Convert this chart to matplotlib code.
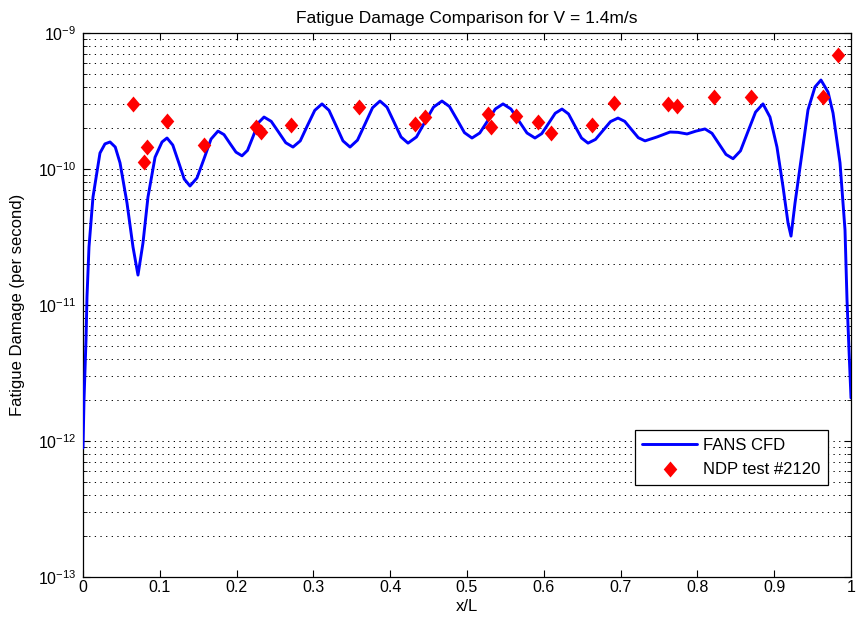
import matplotlib
matplotlib.use("Agg")
import matplotlib.pyplot as plt
from matplotlib.ticker import LogLocator, NullFormatter, FixedLocator, LogFormatterMathtext

plt.rcParams['font.family'] = ['Liberation Sans', 'DejaVu Sans']

# FANS CFD curve (x/L, damage per second)
cfd_x = [0.0, 0.0013, 0.0039, 0.0052, 0.0078, 0.0130, 0.0221, 0.0286, 0.0352,
         0.0420, 0.0482, 0.0573, 0.0651, 0.0716,
         0.0781, 0.0846, 0.0938, 0.1029, 0.1094,
         0.1169, 0.1243, 0.1318, 0.1393,
         0.1484, 0.1576, 0.1667, 0.1758,
         0.1836, 0.1914, 0.1992, 0.2070,
         0.2142, 0.2214, 0.2285, 0.2357,
         0.2451, 0.2546, 0.2640, 0.2734,
         0.2829, 0.2923, 0.3018, 0.3112,
         0.3203, 0.3294, 0.3385, 0.3477,
         0.3574, 0.3672, 0.3770, 0.3867,
         0.3958, 0.4049, 0.4141, 0.4232,
         0.4342, 0.4453, 0.4564, 0.4674,
         0.4772, 0.4870, 0.4967, 0.5065,
         0.5166, 0.5267, 0.5368, 0.5469,
         0.5573, 0.5677, 0.5781, 0.5885,
         0.5973, 0.6061, 0.6149, 0.6237,
         0.6322, 0.6406, 0.6491, 0.6576,
         0.6673, 0.6771, 0.6868, 0.6966,
         0.7054, 0.7142, 0.7230, 0.7318,
         0.7474, 0.7643, 0.7747, 0.7865, 0.7982, 0.8099,
         0.8190, 0.8281, 0.8372, 0.8464,
         0.8561, 0.8659, 0.8757, 0.8854,
         0.8945, 0.9036, 0.9115, 0.9180, 0.9219,
         0.9271, 0.9362, 0.9440, 0.9531, 0.9609,
         0.9701, 0.9766, 0.9857, 0.9922, 0.9948, 0.9974, 1.0]
cfd_y = [8.9e-13, 2.0e-12, 5.53e-12, 1.15e-11, 2.67e-11, 6.22e-11, 1.31e-10, 1.53e-10, 1.58e-10,
         1.45e-10, 1.11e-10, 5.62e-11, 2.67e-11, 1.66e-11,
         2.86e-11, 6.22e-11, 1.22e-10, 1.58e-10, 1.69e-10,
         1.50e-10, 1.13e-10, 8.44e-11, 7.50e-11,
         8.59e-11, 1.19e-10, 1.66e-10, 1.90e-10,
         1.79e-10, 1.54e-10, 1.33e-10, 1.25e-10,
         1.37e-10, 1.73e-10, 2.19e-10, 2.41e-10,
         2.24e-10, 1.87e-10, 1.56e-10, 1.45e-10,
         1.61e-10, 2.09e-10, 2.70e-10, 3.01e-10,
         2.70e-10, 2.09e-10, 1.61e-10, 1.45e-10,
         1.63e-10, 2.14e-10, 2.82e-10, 3.16e-10,
         2.85e-10, 2.22e-10, 1.72e-10, 1.55e-10,
         1.72e-10, 2.22e-10, 2.85e-10, 3.16e-10,
         2.88e-10, 2.31e-10, 1.85e-10, 1.69e-10,
         1.84e-10, 2.25e-10, 2.76e-10, 3.01e-10,
         2.76e-10, 2.25e-10, 1.84e-10, 1.69e-10,
         1.82e-10, 2.16e-10, 2.57e-10, 2.76e-10,
         2.54e-10, 2.07e-10, 1.69e-10, 1.55e-10,
         1.65e-10, 1.92e-10, 2.23e-10, 2.37e-10,
         2.24e-10, 1.95e-10, 1.70e-10, 1.61e-10,
         1.72e-10, 1.87e-10, 1.86e-10, 1.81e-10, 1.90e-10, 1.97e-10,
         1.83e-10, 1.53e-10, 1.28e-10, 1.19e-10,
         1.36e-10, 1.89e-10, 2.62e-10, 3.01e-10,
         2.41e-10, 1.45e-10, 7.38e-11, 4.01e-11, 3.21e-11,
         5.62e-11, 1.31e-10, 2.72e-10, 4.01e-10, 4.51e-10,
         3.68e-10, 2.58e-10, 1.11e-10, 3.56e-11, 1.09e-11, 4.67e-12, 2.07e-12]

# NDP test #2120 measurements
ndp_x = [0.0651, 0.0833, 0.0794, 0.1094, 0.1576, 0.2253, 0.2318, 0.2708,
         0.3594, 0.4323, 0.4453, 0.5273, 0.5313, 0.5638, 0.5924, 0.6094,
         0.6628, 0.6914, 0.7617, 0.7734, 0.8216, 0.8698, 0.9635, 0.9831]
ndp_y = [3.01e-10, 1.45e-10, 1.13e-10, 2.25e-10, 1.50e-10, 2.04e-10, 1.87e-10, 2.11e-10,
         2.86e-10, 2.14e-10, 2.41e-10, 2.54e-10, 2.04e-10, 2.45e-10, 2.22e-10, 1.84e-10,
         2.09e-10, 3.05e-10, 3.01e-10, 2.91e-10, 3.38e-10, 3.38e-10, 3.38e-10, 6.89e-10]

x_ticks = [0, 0.1, 0.2, 0.3, 0.4, 0.5, 0.6, 0.7, 0.8, 0.9, 1]
x_tick_labels = ['0', '0.1', '0.2', '0.3', '0.4', '0.5', '0.6', '0.7', '0.8', '0.9', '1']
y_ticks = [1e-13, 1e-12, 1e-11, 1e-10, 1e-9]

diamond = [(0, 1), (0.85, 0), (0, -1), (-0.85, 0), (0, 1)]

fig = plt.figure(figsize=(8.59, 6.23), dpi=100)
ax = fig.add_axes([83/859, 46/623, 768/859, 544/623])

ax.plot(cfd_x, cfd_y, color='#0000ff', lw=2.1, label='FANS CFD', zorder=3,
        solid_joinstyle='round', solid_capstyle='round')
ax.plot(ndp_x, ndp_y, linestyle='none', marker=diamond, color='#ff0000',
        markersize=11.5, markeredgewidth=0, label='NDP test #2120', zorder=4)

ax.set_yscale('log')
ax.set_xlim(0, 1)
ax.set_ylim(y_ticks[0], y_ticks[-1])
ax.set_xticks(x_ticks)
ax.set_xticklabels(x_tick_labels)
ax.yaxis.set_major_locator(FixedLocator(y_ticks))
ax.yaxis.set_major_formatter(LogFormatterMathtext())
ax.yaxis.set_minor_locator(LogLocator(base=10, subs=range(2, 10), numticks=50))
ax.yaxis.set_minor_formatter(NullFormatter())

ax.grid(False)
ax.yaxis.grid(True, which='both', linestyle=(0, (1.3, 4.5)), color='black', lw=0.7)

ax.tick_params(axis='both', which='both', direction='in', top=True, right=True,
               labelsize=11.5, colors='black')
ax.tick_params(axis='x', which='major', length=5, pad=2)
ax.tick_params(axis='y', which='major', length=5, pad=5)
ax.tick_params(axis='y', which='minor', length=3)
for s in ax.spines.values():
    s.set_linewidth(0.9)

ax.set_title('Fatigue Damage Comparison for V = 1.4m/s', fontsize=12.5, pad=7)
ax.set_xlabel('x/L', fontsize=12, labelpad=3)
ax.set_ylabel('Fatigue Damage (per second)', fontsize=12, labelpad=9)

leg = ax.legend(loc='lower right', bbox_to_anchor=((828 - 83) / 768, (577 - 485) / 544),
                borderaxespad=0, numpoints=1, fancybox=False, framealpha=1,
                edgecolor='black', fontsize=12, handlelength=3.3, borderpad=0.45,
                labelspacing=0.6, handletextpad=0.35)
leg.get_frame().set_linewidth(0.9)

fig.savefig('out.png', dpi=100)
